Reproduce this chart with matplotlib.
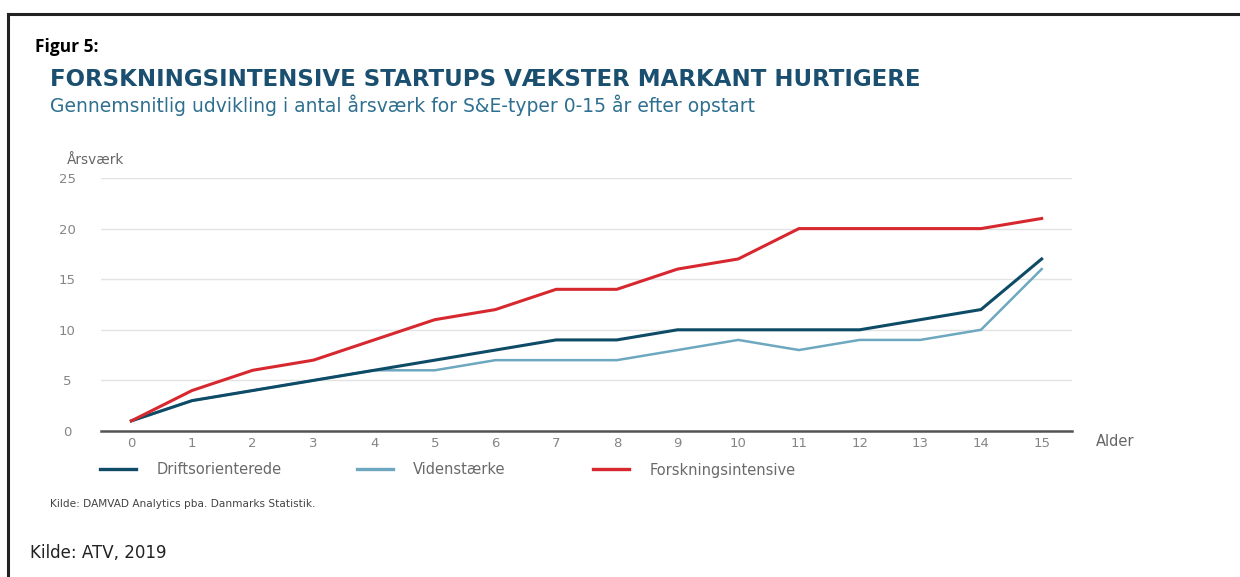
import matplotlib
matplotlib.use("Agg")
import matplotlib.pyplot as plt
from matplotlib.lines import Line2D

# Data
ages = list(range(16))
drift = [1, 3, 4, 5, 6, 7, 8, 9, 9, 10, 10, 10, 10, 11, 12, 17]
viden = [1, 3, 4, 5, 6, 6, 7, 7, 7, 8, 9, 8, 9, 9, 10, 16]
forsk = [1, 4, 6, 7, 9, 11, 12, 14, 14, 16, 17, 20, 20, 20, 20, 21]
series_names = ["Driftsorienterede", "Videnstærke", "Forskningsintensive"]
yticks = [0, 5, 10, 15, 20, 25]

c_drift = "#0e4b66"
c_viden = "#6ea8c0"
c_forsk = "#d7282f"
c_title = "#1b4f6f"
c_sub = "#2f7091"
c_tick = "#858585"

plt.rcParams["font.family"] = ["DejaVu Sans"]

W, H = 1240, 577
fig = plt.figure(figsize=(W / 100, H / 100), dpi=100)
fig.patch.set_facecolor("white")

# outer frame (top and left lines)
fig.add_artist(Line2D([8 / W, 1], [1 - 14 / H, 1 - 14 / H], color="#222222", lw=2.2, transform=fig.transFigure))
fig.add_artist(Line2D([8 / W, 8 / W], [0, 1 - 14 / H], color="#222222", lw=2.2, transform=fig.transFigure))

ax = fig.add_axes([101 / W, 146 / H, (1072 - 101) / W, (431 - 178) / H])
ax.plot(ages, viden, color=c_viden, lw=1.8, label=series_names[1], solid_joinstyle="miter")
ax.plot(ages, drift, color=c_drift, lw=2.2, label=series_names[0], solid_joinstyle="miter")
ax.plot(ages, forsk, color=c_forsk, lw=2.2, label=series_names[2], solid_joinstyle="miter")

ax.set_xlim(-0.5, 15.5)
ax.set_ylim(0, 25)
ax.set_xticks(ages)
ax.set_yticks(yticks)
ax.grid(axis="y", color="#e3e3e3", lw=1)
ax.set_axisbelow(True)
for s in ["top", "right", "left"]:
    ax.spines[s].set_visible(False)
ax.spines["bottom"].set_color("#555555")
ax.spines["bottom"].set_linewidth(1.8)
ax.tick_params(axis="both", length=0, colors=c_tick, labelsize=9.5)
ax.tick_params(axis="x", pad=4)
ax.tick_params(axis="y", pad=0)
for lab in ax.get_yticklabels():
    lab.set_horizontalalignment("center")
# position y tick labels centered at x=67px
ytrans = ax.get_yaxis_transform()
import matplotlib.transforms as mtransforms
offset = mtransforms.ScaledTranslation(-(101 - 67) / 100, 0, fig.dpi_scale_trans)
for lab in ax.get_yticklabels():
    lab.set_transform(ytrans + offset)
    lab.set_x(0)

fig.text(67 / W, 1 - 160 / H, "Årsværk", fontsize=9.8, color="#666666", va="center", ha="left")
fig.text(1096 / W, 1 - 441 / H, "Alder", fontsize=10.5, color="#666666", va="center", ha="left")

# Titles
fig.text(35 / W, 1 - 47 / H, "Figur 5:", fontsize=12.5, fontweight="bold", color="black", va="center", ha="left",
         family="Open Sans")
fig.text(50 / W, 1 - 80 / H, "FORSKNINGSINTENSIVE STARTUPS VÆKSTER MARKANT HURTIGERE", fontsize=16.5,
         fontweight="bold", color=c_title, va="center", ha="left")
fig.text(50 / W, 1 - 105 / H, "Gennemsnitlig udvikling i antal årsværk for S&E-typer 0-15 år efter opstart",
         fontsize=13.5, color=c_sub, va="center", ha="left")

# Legend: one entry per series, anchored at the reference positions
leg_x = [100, 357, 593]
leg_colors = [c_drift, c_viden, c_forsk]
for name, col, lx in zip(series_names, leg_colors, leg_x):
    lg = fig.legend([Line2D([], [], color=col, lw=2.4)], [name], loc="center left",
                    bbox_to_anchor=(lx / W, 1 - 470 / H), frameon=False, fontsize=10.5,
                    handlelength=2.5, handletextpad=1.35, borderpad=0, borderaxespad=0)
    for t in lg.get_texts():
        t.set_color("#6a6a6a")

fig.text(50 / W, 1 - 504 / H, "Kilde: DAMVAD Analytics pba. Danmarks Statistik.", fontsize=7.6,
         color="#444444", va="center", ha="left")
fig.text(30 / W, 1 - 553 / H, "Kilde: ATV, 2019", fontsize=12, color="#222222", va="center", ha="left")

fig.savefig("out.png", dpi=100)
